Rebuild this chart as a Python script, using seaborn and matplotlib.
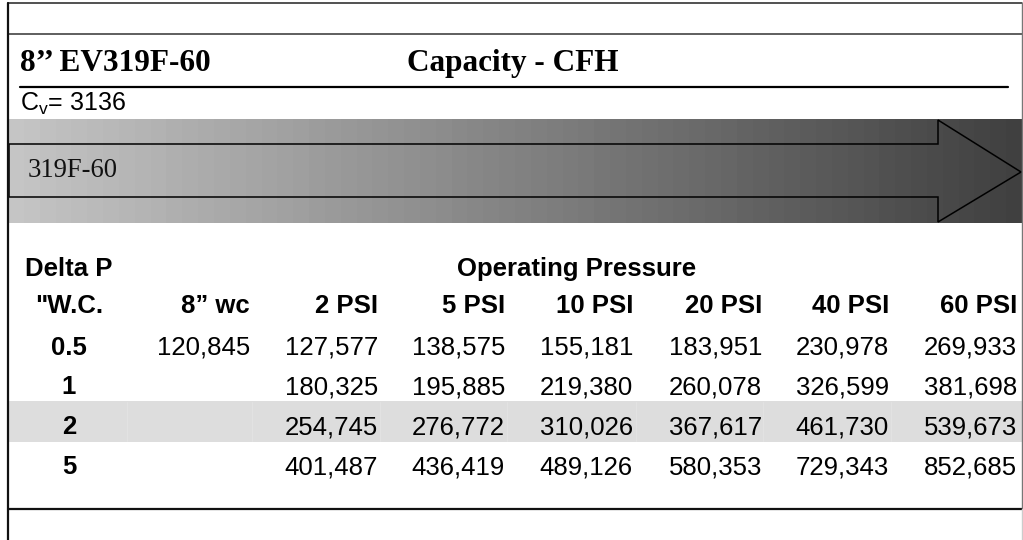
import numpy as np
import matplotlib
matplotlib.use("Agg")
import matplotlib.pyplot as plt
from matplotlib.patches import Polygon, Rectangle
import seaborn as sns

# ---------------- data ----------------
title_left = "8’’ EV319F-60"
title_right = "Capacity - CFH"
cv_value = "3136"
arrow_label = "319F-60"
row_header_top = "Delta P"
row_header = '"W.C.'
group_header = "Operating Pressure"
columns = ["8” wc", "2 PSI", "5 PSI", "10 PSI", "20 PSI", "40 PSI", "60 PSI"]
delta_p = ["0.5", "1", "2", "5"]
wc8 = [120845, None, None, None]
psi2 = [127577, 180325, 254745, 401487]
psi5 = [138575, 195885, 276772, 436419]
psi10 = [155181, 219380, 310026, 489126]
psi20 = [183951, 260078, 367617, 580353]
psi40 = [230978, 326599, 461730, 729343]
psi60 = [269933, 381698, 539673, 852685]
series = [wc8, psi2, psi5, psi10, psi20, psi40, psi60]
highlight_row = "2"

# ---------------- style ----------------
sns.set_theme(style="white")
plt.rcParams["font.family"] = ["Liberation Sans", "DejaVu Sans"]
plt.rcParams["text.color"] = "black"
SERIF = ["Liberation Serif", "DejaVu Serif"]
SANS = ["Liberation Sans", "DejaVu Sans"]

W, H = 1023, 540
fig = plt.figure(figsize=(W / 100, H / 100), dpi=100, facecolor="white")

def frac_box(x0, y0, x1, y1):
    return [x0 / W, 1 - y1 / H, (x1 - x0) / W, (y1 - y0) / H]

# gradient band drawn with a seaborn heatmap
ax_g = fig.add_axes(frac_box(8, 119, 1022, 223))
grad = np.linspace(0.77, 0.25, 64)[None, :]
sns.heatmap(grad, ax=ax_g, cmap="gray", vmin=0, vmax=1, cbar=False,
            xticklabels=False, yticklabels=False, linewidths=0)
ax_g.set_axis_off()

# main overlay in pixel coordinates
ax = fig.add_axes([0, 0, 1, 1])
ax.set_xlim(0, W)
ax.set_ylim(H, 0)
ax.set_axis_off()

# frame lines
ax.plot([8, 1022], [3, 3], color="#222222", lw=1.1)
ax.plot([8, 1022], [34, 34], color="#333333", lw=1.1)
ax.plot([20, 1008], [87, 87], color="black", lw=1.6)
ax.plot([8, 1022], [509, 509], color="#111111", lw=1.6)
ax.plot([8, 8], [3, 540], color="#111111", lw=1.6)
ax.plot([1022, 1022], [3, 509], color="#777777", lw=1.0)
ax.plot([1022, 1022], [509, 540], color="#cccccc", lw=1.0)

# titles
ax.text(20, 71, title_left, family=SERIF, fontweight="bold", fontsize=22.5,
        ha="left", va="baseline", color="black")
ax.text(407, 71, title_right, family=SERIF, fontweight="bold", fontsize=22.5,
        ha="left", va="baseline", color="black")
ax.text(20, 111, r"C$_\mathregular{v}$= " + cv_value, family=SANS, fontsize=18,
        ha="left", va="baseline", color="black")

# arrow
arrow = Polygon([(9, 144), (938, 144), (938, 120), (1021, 172), (938, 222),
                 (938, 197), (9, 197)], closed=True, fill=False,
                edgecolor="black", lw=1.1)
ax.add_patch(arrow)
ax.text(28, 177, arrow_label, family=SERIF, fontsize=19.2, ha="left",
        va="baseline", color="#111111")

# table
col_right = [250, 378, 505, 633, 762, 889, 1017]
first_col_center = 69
row_base = [355, 394, 434, 474]
FS = 18.5

ax.text(first_col_center, 276, row_header_top, fontweight="bold", fontsize=FS,
        ha="center", va="baseline", color="black")
ax.text(577, 276, group_header, fontweight="bold", fontsize=FS,
        ha="center", va="baseline", color="black")
ax.text(first_col_center, 313, row_header, fontweight="bold", fontsize=FS,
        ha="center", va="baseline", color="black")
for xr, name in zip(col_right, columns):
    ax.text(xr, 313, name, fontweight="bold", fontsize=FS, ha="right",
            va="baseline", color="black")

for i, dp in enumerate(delta_p):
    yb = row_base[i]
    if dp == highlight_row:
        ax.add_patch(Rectangle((9, 401), 1013, 41, facecolor="#dddddd",
                               edgecolor="none", zorder=0))
        for xs in [127, 252, 380, 507, 636, 763, 891]:
            ax.plot([xs, xs], [402, 441], color="#e4e4e4", lw=0.6, zorder=0.5)
    ax.text(first_col_center, yb, dp, fontweight="bold", fontsize=FS,
            ha="center", va="baseline", color="black")
    for xr, s in zip(col_right, series):
        v = s[i]
        if v is None:
            continue
        ax.text(xr, yb, f"{v:,}", fontsize=FS, ha="right", va="baseline",
                color="black")

fig.savefig("out.png", dpi=100, facecolor="white")
